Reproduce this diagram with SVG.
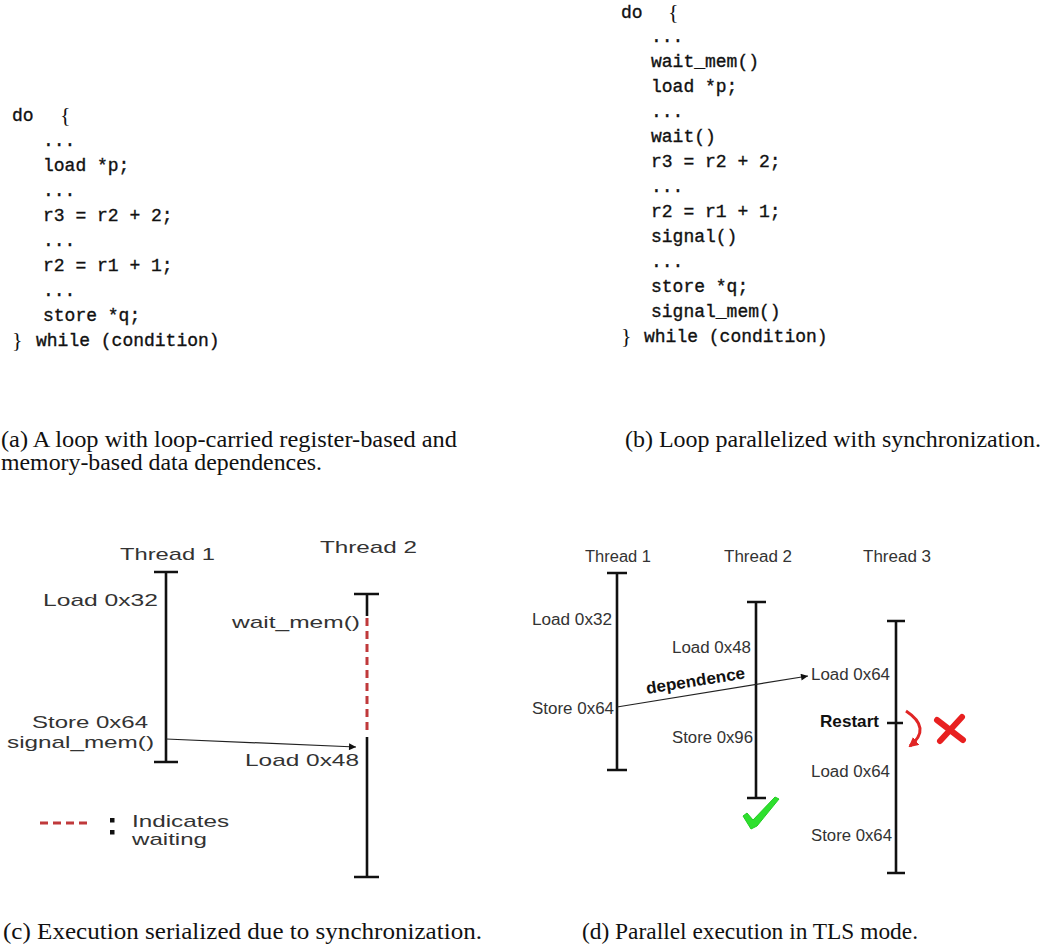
<svg xmlns="http://www.w3.org/2000/svg" width="1042" height="947" viewBox="0 0 1042 947">
<defs>
<style>
.code{font-family:"Liberation Mono",monospace;font-size:18px;fill:#111;stroke:#111;stroke-width:0.35}
.brace{font-family:"Liberation Serif",serif;font-size:22px;fill:#111}
.cap{font-family:"Liberation Serif","Times New Roman",serif;font-size:23px;fill:#111}
.lbl{font-family:"Liberation Sans",Arial,sans-serif;font-size:17px;fill:#333}
.lbld{font-family:"Liberation Sans",Arial,sans-serif;font-size:16px;fill:#333}
.bold{font-family:"Liberation Sans",Arial,sans-serif;font-size:16.5px;font-weight:bold;fill:#111}
.tl{stroke:#111;stroke-width:2.6;fill:none}
.conn{stroke:#222;stroke-width:1.2;fill:none}
.wait{stroke:#c0393b;stroke-width:3;stroke-dasharray:8 5;fill:none}
</style>
<marker id="ah" viewBox="0 0 10 10" refX="10" refY="5" markerWidth="9" markerHeight="7" markerUnits="userSpaceOnUse" orient="auto">
<path d="M0,0 L10,5 L0,10 z" fill="#111"/>
</marker>
<marker id="rah" viewBox="0 0 10 10" refX="8" refY="5" markerWidth="10" markerHeight="10" markerUnits="userSpaceOnUse" orient="auto">
<path d="M0,0 L10,5 L0,10 z" fill="#e02525"/>
</marker>
</defs>
<rect width="1042" height="947" fill="#fff"/>

<g id="code-a">
<text class="code" x="12" y="121">do</text>
<text class="brace" x="60" y="122">{</text>
<text class="code" x="43" y="146">...</text>
<text class="code" x="43" y="171">load *p;</text>
<text class="code" x="43" y="196">...</text>
<text class="code" x="43" y="221">r3 = r2 + 2;</text>
<text class="code" x="43" y="246">...</text>
<text class="code" x="43" y="271">r2 = r1 + 1;</text>
<text class="code" x="43" y="296">...</text>
<text class="code" x="43" y="321">store *q;</text>
<text class="brace" x="12" y="347">}</text>
<text class="code" x="36" y="346">while (condition)</text>
</g>

<g id="code-b">
<text class="code" x="621" y="18">do</text>
<text class="brace" x="668" y="19">{</text>
<text class="code" x="651" y="42">...</text>
<text class="code" x="651" y="67">wait_mem()</text>
<text class="code" x="651" y="92">load *p;</text>
<text class="code" x="651" y="117">...</text>
<text class="code" x="651" y="142">wait()</text>
<text class="code" x="651" y="167">r3 = r2 + 2;</text>
<text class="code" x="651" y="192">...</text>
<text class="code" x="651" y="217">r2 = r1 + 1;</text>
<text class="code" x="651" y="242">signal()</text>
<text class="code" x="651" y="267">...</text>
<text class="code" x="651" y="292">store *q;</text>
<text class="code" x="651" y="317">signal_mem()</text>
<text class="brace" x="621" y="343">}</text>
<text class="code" x="644" y="342">while (condition)</text>
</g>

<g id="captions">
<text class="cap" x="1" y="447" textLength="456" lengthAdjust="spacingAndGlyphs">(a) A loop with loop-carried register-based and</text>
<text class="cap" x="1" y="470" textLength="321" lengthAdjust="spacingAndGlyphs">memory-based data dependences.</text>
<text class="cap" x="625" y="447" textLength="416" lengthAdjust="spacingAndGlyphs">(b) Loop parallelized with synchronization.</text>
<text class="cap" x="3" y="939" textLength="479" lengthAdjust="spacingAndGlyphs">(c) Execution serialized due to synchronization.</text>
<text class="cap" x="582" y="939" textLength="336" lengthAdjust="spacingAndGlyphs">(d) Parallel execution in TLS mode.</text>
</g>

<!-- Panel (c) -->
<g id="c-thread1">
<text class="lbl" x="120" y="560" textLength="95" lengthAdjust="spacingAndGlyphs">Thread 1</text>
<path class="tl" d="M154,572 H178 M166,572 V762 M154,762 H178"/>
<text class="lbl" x="43" y="606" textLength="115" lengthAdjust="spacingAndGlyphs">Load 0x32</text>
<text class="lbl" x="32" y="728" textLength="116" lengthAdjust="spacingAndGlyphs">Store 0x64</text>
<text class="lbl" x="7" y="748" textLength="147" lengthAdjust="spacingAndGlyphs">signal_mem()</text>
</g>
<g id="c-thread2">
<text class="lbl" x="320" y="553" textLength="97" lengthAdjust="spacingAndGlyphs">Thread 2</text>
<path class="tl" d="M354,594 H379 M367,594 V616 M367,737 V877 M354,877 H379"/>
<path class="wait" d="M367,618 V734"/>
<text class="lbl" x="232" y="628" textLength="128" lengthAdjust="spacingAndGlyphs">wait_mem()</text>
<text class="lbl" x="245" y="766" textLength="114" lengthAdjust="spacingAndGlyphs">Load 0x48</text>
</g>
<g id="c-legend">
<path class="wait" d="M40,823 H91" stroke-dasharray="12 6"/>
<rect x="110" y="818" width="4.5" height="4.5" fill="#111"/>
<rect x="110" y="830" width="4.5" height="4.5" fill="#111"/>
<text class="lbl" x="132" y="827" textLength="97" lengthAdjust="spacingAndGlyphs">Indicates</text>
<text class="lbl" x="132" y="845" textLength="75" lengthAdjust="spacingAndGlyphs">waiting</text>
</g>

<!-- Panel (d) -->
<g id="d-thread1">
<text class="lbld" x="585" y="562" textLength="66" lengthAdjust="spacingAndGlyphs">Thread 1</text>
<path class="tl" d="M607,573 H627 M617,573 V770 M607,770 H627"/>
<text class="lbld" x="532" y="625" textLength="80" lengthAdjust="spacingAndGlyphs">Load 0x32</text>
<text class="lbld" x="532" y="714" textLength="82" lengthAdjust="spacingAndGlyphs">Store 0x64</text>
</g>
<g id="d-thread2">
<text class="lbld" x="724" y="562" textLength="68" lengthAdjust="spacingAndGlyphs">Thread 2</text>
<path class="tl" d="M747,602 H766 M756,602 V798 M747,798 H766"/>
<text class="lbld" x="672" y="653" textLength="79" lengthAdjust="spacingAndGlyphs">Load 0x48</text>
<text class="lbld" x="672" y="743" textLength="81" lengthAdjust="spacingAndGlyphs">Store 0x96</text>
<path d="M743,816 L747,813 L753,820 L775,797 L779,799 L757,826 L751,829 Z" fill="#2ee02e" stroke="#22cc22" stroke-width="1" stroke-linejoin="round"/>
</g>
<g id="d-thread3">
<text class="lbld" x="863" y="562" textLength="68" lengthAdjust="spacingAndGlyphs">Thread 3</text>
<path class="tl" d="M887,621 H905 M896,621 V873 M887,873 H905 M887,723 H903"/>
<text class="lbld" x="811" y="680" textLength="79" lengthAdjust="spacingAndGlyphs">Load 0x64</text>
<text class="bold" x="820" y="727" textLength="59" lengthAdjust="spacingAndGlyphs">Restart</text>
<text class="lbld" x="811" y="777" textLength="79" lengthAdjust="spacingAndGlyphs">Load 0x64</text>
<text class="lbld" x="811" y="841" textLength="81" lengthAdjust="spacingAndGlyphs">Store 0x64</text>
<path d="M906,711 Q932,728 910,746" stroke="#e02525" stroke-width="3" fill="none" marker-end="url(#rah)"/>
<path d="M937,720 L963,740 M962,717 L940,741" stroke="#e82020" stroke-width="6" stroke-linecap="round" fill="none"/>
</g>

<g id="connectors">
<path class="conn" d="M166,739 L356,747" marker-end="url(#ah)"/>
<path class="conn" d="M617,707 L808,676" marker-end="url(#ah)"/>
<text class="bold" x="0" y="0" transform="translate(647,694) rotate(-9)" textLength="100" lengthAdjust="spacingAndGlyphs">dependence</text>
</g>
</svg>
